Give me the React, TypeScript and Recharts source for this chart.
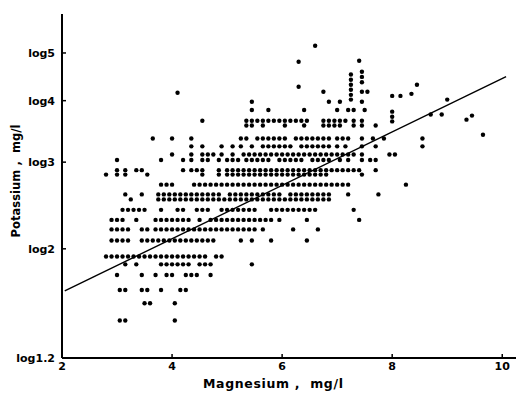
import { ScatterChart, Scatter, XAxis, YAxis } from "recharts";

const mgTicks = [2, 4, 6, 8, 10];
const kTicks = [1.2, 2, 3, 4, 5];

// Magnesium readings (mg/l) grouped by the potassium level (mg/l) they were logged at
const k143 = [3.05, 3.15, 4.05];
const k155 = [3.5, 3.6, 4.05];
const k165 = [3.05, 3.15, 3.45, 3.55, 3.8, 4.15, 4.25];
const k177 = [3.0, 3.45, 3.7, 3.9, 4.0, 4.25, 4.35, 4.45, 4.7];
const k186 = [3.15, 3.35, 3.8, 3.9, 4.0, 4.1, 4.2, 4.3, 4.5, 4.6, 4.7, 5.45];
const k193 = [
  2.8, 2.9, 3.0, 3.1, 3.2, 3.3, 3.4, 3.5, 3.6, 3.7, 3.8, 3.9, 4.0, 4.1, 4.2, 4.3, 4.4, 4.5, 4.6,
  4.8, 4.9,
];
const k208 = [
  2.9, 3.0, 3.1, 3.2, 3.45, 3.55, 3.65, 3.75, 3.85, 3.95, 4.05, 4.15, 4.25, 4.35, 4.45, 4.55,
  4.65, 4.75, 5.25, 5.45, 5.8, 6.45,
];
const k219 = [
  2.9, 3.0, 3.1, 3.2, 3.45, 3.55, 3.7, 3.8, 3.9, 4.0, 4.1, 4.2, 4.3, 4.4, 4.5, 4.6, 4.7, 4.8, 4.9,
  5.0, 5.1, 5.2, 5.3, 5.4, 5.5, 5.65, 6.2, 6.65,
];
const k229 = [
  2.9, 3.0, 3.1, 3.35, 3.7, 3.8, 3.9, 4.0, 4.1, 4.2, 4.3, 4.5, 4.7, 4.8, 4.9, 5.0, 5.1, 5.2, 5.3,
  5.4, 5.5, 5.6, 5.7, 5.8, 5.95, 6.45, 7.4,
];
const k240 = [
  3.1, 3.2, 3.3, 3.4, 3.5, 3.8, 4.1, 4.2, 4.45, 4.55, 4.65, 4.9, 5.0, 5.1, 5.2, 5.3, 5.4, 5.5,
  5.8, 5.9, 6.0, 6.1, 6.2, 6.3, 6.4, 6.5, 6.6, 7.3,
];
const k252 = [
  3.25, 3.75, 3.85, 3.95, 4.05, 4.15, 4.25, 4.35, 4.45, 4.55, 4.65, 4.75, 4.85, 4.95, 5.05, 5.15,
  5.25, 5.35, 5.45, 5.55, 5.65, 5.75, 5.85, 5.95, 6.05, 6.15, 6.25, 6.35, 6.45, 6.55, 6.65, 6.75,
  6.85,
];
const k258 = [
  3.15, 3.45, 3.75, 3.85, 3.95, 4.05, 4.15, 4.25, 4.35, 4.45, 4.55, 4.65, 4.75, 4.85, 5.05, 5.15,
  5.25, 5.35, 5.45, 5.55, 5.65, 5.75, 5.85, 5.95, 6.15, 6.25, 6.35, 6.45, 6.55, 6.65, 6.75, 6.85,
  7.2, 7.75,
];
const k270 = [
  3.8, 3.9, 4.0, 4.4, 4.5, 4.6, 4.7, 4.8, 4.9, 5.0, 5.1, 5.2, 5.3, 5.4, 5.5, 5.6, 5.7, 5.8, 5.9,
  6.0, 6.1, 6.2, 6.3, 6.4, 6.5, 6.6, 6.7, 6.8, 6.9, 7.0, 7.1, 7.2, 8.25,
];
const k283 = [
  2.8, 3.0, 3.15, 3.55, 4.55, 4.85, 5.0, 5.1, 5.2, 5.3, 5.4, 5.5, 5.6, 5.7, 5.8, 5.9, 6.0, 6.1,
  6.2, 6.3, 6.4, 6.5, 6.6, 6.7, 6.8, 7.45,
];
const k289 = [
  3.0, 3.15, 3.35, 3.45, 4.2, 4.35, 4.45, 4.55, 4.85, 5.0, 5.1, 5.2, 5.3, 5.4, 5.5, 5.6, 5.7, 5.8,
  5.9, 6.0, 6.1, 6.2, 6.3, 6.4, 6.5, 6.6, 6.7, 6.8, 6.9, 7.0, 7.1, 7.2, 7.3, 7.4, 7.7,
];
const k303 = [
  3.0, 3.8, 4.2, 4.35, 4.55, 4.65, 4.85, 5.0, 5.1, 5.2, 5.35, 5.45, 5.55, 5.65, 5.75, 5.95, 6.05,
  6.15, 6.25, 6.35, 6.55, 6.65, 6.75, 6.85, 7.05, 7.2, 7.45, 7.6, 7.7,
];
const k311 = [
  4.0, 4.35, 4.55, 4.65, 4.75, 4.9, 5.1, 5.3, 5.4, 5.5, 5.6, 5.7, 5.8, 5.9, 6.0, 6.1, 6.2, 6.3,
  6.4, 6.5, 6.6, 6.7, 6.8, 6.9, 7.0, 7.1, 7.2, 7.3, 7.45, 7.95, 8.05,
];
const k323 = [
  4.35, 4.55, 4.9, 5.1, 5.25, 5.45, 5.65, 5.75, 5.85, 5.95, 6.05, 6.15, 6.35, 6.45, 6.55, 6.65,
  6.75, 6.85, 7.0, 7.15, 7.45, 7.7, 8.55,
];
const k335 = [
  3.65, 4.0, 4.35, 5.25, 5.35, 5.55, 5.65, 5.75, 5.85, 5.95, 6.05, 6.25, 6.35, 6.45, 6.55, 6.65,
  6.75, 6.85, 7.0, 7.1, 7.2, 7.45, 7.65, 7.85, 8.55,
];
const k356 = [5.35, 5.45, 5.65, 6.05, 6.4, 6.75, 6.85, 6.95, 7.05, 7.3, 7.45, 7.7];
const k364 = [
  4.55, 5.35, 5.45, 5.55, 5.65, 5.75, 5.85, 5.95, 6.05, 6.15, 6.25, 6.35, 6.45, 6.75, 6.85, 6.95,
  7.05, 7.15, 7.3, 7.45,
];
const k383 = [5.45, 5.75, 6.4, 7.0, 7.2, 7.3, 7.5];

const levels: [number, number[]][] = [
  [1.43, k143], [1.55, k155], [1.65, k165], [1.77, k177], [1.86, k186], [1.93, k193],
  [2.08, k208], [2.19, k219], [2.29, k229], [2.4, k240], [2.52, k252], [2.58, k258],
  [2.7, k270], [2.83, k283], [2.89, k289], [3.03, k303], [3.11, k311], [3.23, k323],
  [3.35, k335], [3.56, k356], [3.64, k364], [3.83, k383],
];

// the sparser high readings, [magnesium, potassium]
const highReadings: [number, number][] = [
  [9.65, 3.41], [8.0, 3.63], [8.0, 3.71], [8.0, 3.8], [9.35, 3.66], [9.45, 3.73],
  [8.7, 3.75], [8.9, 3.75], [5.45, 3.98], [6.85, 3.98], [7.05, 3.98], [7.45, 3.98],
  [7.25, 4.02], [9.0, 4.02], [8.0, 4.09], [8.15, 4.09], [7.25, 4.11], [8.35, 4.13],
  [4.1, 4.15], [6.75, 4.17], [7.45, 4.17], [7.55, 4.17], [7.25, 4.21], [6.3, 4.27],
  [7.25, 4.31], [8.45, 4.31], [7.45, 4.36], [7.25, 4.41], [7.45, 4.47], [7.25, 4.52],
  [7.45, 4.58], [6.3, 4.8], [7.4, 4.82], [6.6, 5.17],
];

// fitted regression of potassium on magnesium
const fitMg = [2.05, 10.07];
const fitK = [1.643, 4.475];

const samples = [
  ...levels.flatMap(([k, mgs]) => mgs.map((mg) => ({ mg, k }))),
  ...highReadings.map(([mg, k]) => ({ mg, k })),
];
const fitLine = fitMg.map((mg, i) => ({ mg, k: fitK[i] }));

const FONT = "'DejaVu Sans', sans-serif";

function MgTick({ x, y, payload }: any) {
  return (
    <g>
      <line x1={x} x2={x} y1={y} y2={y - 4} stroke="#000" strokeWidth={1.5} />
      <text x={x} y={y + 12} textAnchor="middle" fontFamily={FONT} fontWeight="bold" fontSize={11} fill="#000">
        {payload.value}
      </text>
    </g>
  );
}

function KTick({ x, y, payload }: any) {
  return (
    <g>
      <line x1={x} x2={x + 4} y1={y} y2={y} stroke="#000" strokeWidth={1.5} />
      <text x={x - 7} y={y + 4} textAnchor="end" fontFamily={FONT} fontWeight="bold" fontSize={11} fill="#000">
        {`log${payload.value}`}
      </text>
    </g>
  );
}

const Dot = (p: any) => <circle cx={p.cx} cy={p.cy} r={2.2} fill="#000" />;
const NoDot = () => <g />;

export default function App() {
  return (
    <div style={{ position: "absolute", left: 0, top: 0, width: 522, height: 407, background: "#fff" }}>
      <ScatterChart width={522} height={407} margin={{ top: 14, right: 6, bottom: 0, left: 0 }}>
        <XAxis
          type="number"
          dataKey="mg"
          domain={[2, 10.25]}
          allowDataOverflow
          ticks={mgTicks}
          interval={0}
          tickSize={0}
          tickMargin={0}
          height={49}
          tick={<MgTick />}
          axisLine={{ stroke: "#000", strokeWidth: 2 }}
        />
        <YAxis
          type="number"
          dataKey="k"
          scale="log"
          domain={[1.2, 6]}
          allowDataOverflow
          ticks={kTicks}
          interval={0}
          tickSize={0}
          tickMargin={0}
          width={62}
          tick={<KTick />}
          axisLine={{ stroke: "#000", strokeWidth: 2 }}
        />
        <Scatter data={samples} shape={Dot} isAnimationActive={false} />
        <Scatter
          data={fitLine}
          line={{ stroke: "#000", strokeWidth: 1.4 }}
          shape={NoDot}
          isAnimationActive={false}
        />
      </ScatterChart>
      <svg width={522} height={407} style={{ position: "absolute", left: 0, top: 0, pointerEvents: "none" }}>
        <text x={273} y={388} textAnchor="middle" fontFamily={FONT} fontWeight="bold" fontSize={12.5} textLength={140} lengthAdjust="spacing" fill="#000" style={{ whiteSpace: "pre" }}>
          {"Magnesium ,  mg/l"}
        </text>
        <text x={20} y={181} transform="rotate(-90 20 181)" textAnchor="middle" fontFamily={FONT} fontWeight="bold" fontSize={11.5} textLength={113} lengthAdjust="spacing" fill="#000" style={{ whiteSpace: "pre" }}>
          {"Potassium ,  mg/l"}
        </text>
      </svg>
    </div>
  );
}
